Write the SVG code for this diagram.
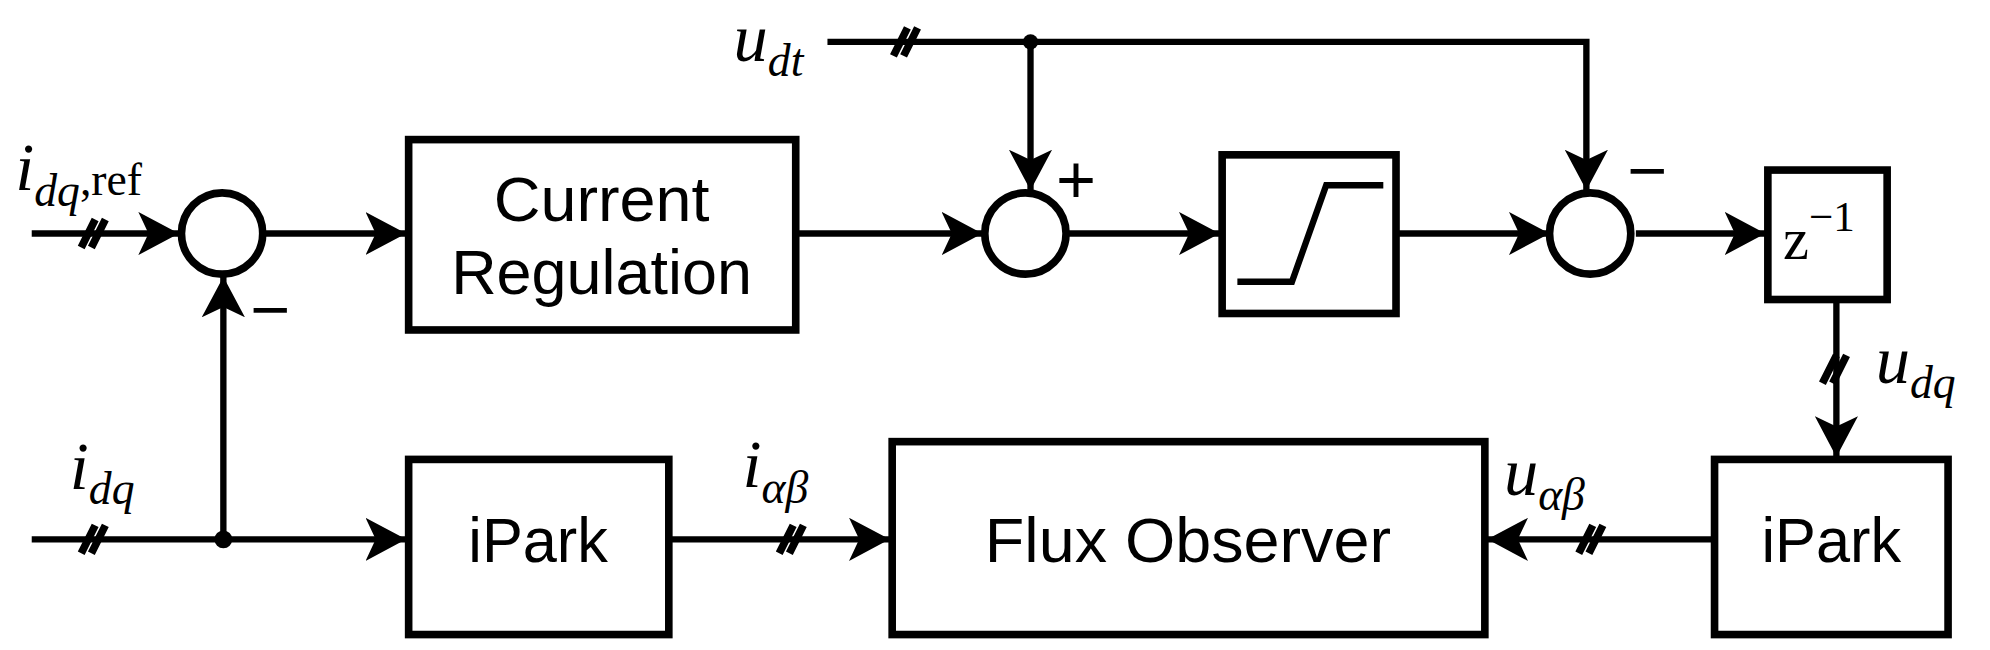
<svg xmlns="http://www.w3.org/2000/svg" width="1990" height="650" viewBox="0 0 1990 650">
<style>
.ln{fill:none;stroke:#000;stroke-width:5}
.bx{fill:#fff;stroke:#000;stroke-width:6}
.sl{stroke:#000;stroke-width:6;fill:none}
.t{font-family:"Liberation Sans",Arial,sans-serif;font-size:50px;text-anchor:middle}
.m{font-family:"Liberation Serif","Times New Roman",serif;font-style:italic;font-size:54px}
.s{font-size:36px}
.r{font-style:normal}
.sg{font-family:"Liberation Sans",Arial,sans-serif;font-size:54px}
</style>
<defs>
<marker id="a" markerUnits="userSpaceOnUse" markerWidth="34" markerHeight="34" viewBox="0 0 34 34" refX="32" refY="17" orient="auto">
<path d="M0,0 L32,17 L0,34 L8,17 Z" fill="#000"/>
</marker>
</defs>
<rect width="1990" height="650" fill="#fff"/>
<g transform="scale(1.2691)">
<g id="connectors">
<path class="ln" d="M25,184 H141" marker-end="url(#a)"/>
<path class="ln" d="M207,184 H320" marker-end="url(#a)"/>
<path class="ln" d="M627,184 H774" marker-end="url(#a)"/>
<path class="ln" d="M842,184 H961" marker-end="url(#a)"/>
<path class="ln" d="M1100,184 H1221" marker-end="url(#a)"/>
<path class="ln" d="M1289,184 H1391" marker-end="url(#a)"/>
<path class="ln" d="M652,33 H1250 V150" marker-end="url(#a)"/>
<path class="ln" d="M812,33 V150" marker-end="url(#a)"/>
<path class="ln" d="M1447,236 V360" marker-end="url(#a)"/>
<path class="ln" d="M1351,425 H1172" marker-end="url(#a)"/>
<path class="ln" d="M527,425 H701" marker-end="url(#a)"/>
<path class="ln" d="M25,425 H320" marker-end="url(#a)"/>
<path class="ln" d="M176,425 V218" marker-end="url(#a)"/>
<circle cx="812" cy="33" r="6"/>
<circle cx="176" cy="425" r="7"/>
<g class="sl">
<path d="M64,195 L75,173 M72,195 L83,173"/>
<path d="M64,436 L75,414 M72,436 L83,414"/>
<path d="M704,44 L715,22 M712,44 L723,22"/>
<path d="M614,436 L625,414 M622,436 L633,414"/>
<path d="M1244,436 L1255,414 M1252,436 L1263,414"/>
<path d="M1436,302 L1447,280 M1444,302 L1455,280"/>
</g>
</g>
<g id="sum0"><circle class="bx" cx="175" cy="184" r="32"/></g>
<g id="sum1"><circle class="bx" cx="808" cy="184" r="32"/></g>
<g id="sum2"><circle class="bx" cx="1253" cy="184" r="32"/></g>
<g id="cr"><rect class="bx" x="322" y="110" width="305" height="150"/><text class="t" x="474" y="174" textLength="170" lengthAdjust="spacingAndGlyphs">Current</text><text class="t" x="474" y="232" textLength="237" lengthAdjust="spacingAndGlyphs">Regulation</text></g>
<g id="sat"><rect class="bx" x="963" y="122" width="137" height="125"/><path class="ln" d="M975,222 H1018 L1045,146 H1090"/></g>
<g id="zinv"><rect class="bx" x="1393" y="134" width="94" height="102"/><text x="1405" y="204" font-family="Liberation Serif,serif" font-size="46">z<tspan font-size="34" dy="-22">−1</tspan></text></g>
<g id="ipark1"><rect class="bx" x="322" y="362" width="205" height="138"/><text class="t" x="424" y="443" textLength="110" lengthAdjust="spacingAndGlyphs">iPark</text></g>
<g id="flux"><rect class="bx" x="703" y="348" width="467" height="152"/><text class="t" x="936" y="443" textLength="320" lengthAdjust="spacingAndGlyphs">Flux Observer</text></g>
<g id="ipark2"><rect class="bx" x="1351" y="362" width="184" height="138"/><text class="t" x="1443" y="443" textLength="110" lengthAdjust="spacingAndGlyphs">iPark</text></g>
<g id="labels">
<text class="m" x="12" y="150">i<tspan class="s" dy="12">dq</tspan><tspan class="s r" dy="-8">,ref</tspan></text>
<text class="m" x="55" y="385">i<tspan class="s" dy="12">dq</tspan></text>
<text class="m" x="578" y="48">u<tspan class="s" dy="12">dt</tspan></text>
<text class="m" x="585" y="384">i<tspan class="s" dy="12">αβ</tspan></text>
<text class="m" x="1185" y="390">u<tspan class="s" dy="12">αβ</tspan></text>
<text class="m" x="1478" y="302">u<tspan class="s" dy="12">dq</tspan></text>
<text class="sg" x="832" y="160">+</text>
<text class="sg" x="1282" y="153">−</text>
<text class="sg" x="197" y="262">−</text>
</g>
</g>
</svg>
